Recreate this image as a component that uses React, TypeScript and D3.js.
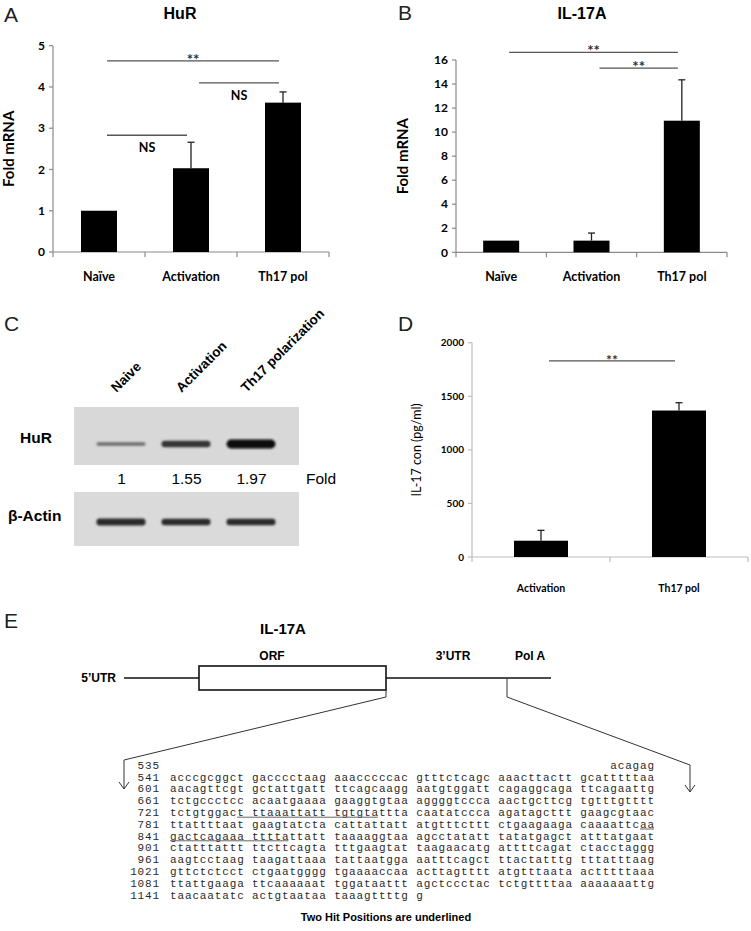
import * as d3 from "d3";
import React from "react";

// ---- data ----
const mrnaCategories = ["Naïve", "Activation", "Th17 pol"];
const hurValues = [1.0, 2.03, 3.62];
const hurErrors = [0, 0.63, 0.26];
const hurTicks = [0, 1, 2, 3, 4, 5];
const hurBrackets = [
  { from: 0, to: 2, at: 4.63, label: "**", above: true },
  { from: 1, to: 2, at: 4.1, label: "NS", above: false },
  { from: 0, to: 1, at: 2.83, label: "NS", above: false },
];

const il17Values = [0.97, 0.97, 10.95];
const il17Errors = [0, 0.63, 3.4];
const il17Ticks = [0, 2, 4, 6, 8, 10, 12, 14, 16];
const il17Brackets = [
  { from: 0, to: 2, at: 16.64, label: "**", above: true },
  { from: 1, to: 2, at: 15.33, label: "**", above: true },
];

const elisaCategories = ["Activation", "Th17 pol"];
const elisaValues = [152, 1367];
const elisaErrors = [97, 73];
const elisaTicks = [0, 500, 1000, 1500, 2000];
const elisaBrackets = [{ from: 0, to: 1, at: 1831, label: "**", above: true }];

const blotLanes = ["Naive", "Activation", "Th17 polarization"];
const hurFold = [1, 1.55, 1.97];
const actinLevel = [1, 0.95, 0.92];

const seqRows = [
  ["541", "acccgcggct gacccctaag aaacccccac gtttctcagc aaacttactt gcatttttaa"],
  ["601", "aacagttcgt gctattgatt ttcagcaagg aatgtggatt cagaggcaga ttcagaattg"],
  ["661", "tctgccctcc acaatgaaaa gaaggtgtaa aggggtccca aactgcttcg tgtttgtttt"],
  ["721", "tctgtggact ttaaattatt tgtgtattta caatatccca agatagcttt gaagcgtaac"],
  ["781", "ttattttaat gaagtatcta cattattatt atgtttcttt ctgaagaaga caaaattcaa"],
  ["841", "gactcagaaa ttttattatt taaaaggtaa agcctatatt tatatgagct atttatgaat"],
  ["901", "ctatttattt ttcttcagta tttgaagtat taagaacatg attttcagat ctacctaggg"],
  ["961", "aagtcctaag taagattaaa tattaatgga aatttcagct ttactatttg tttatttaag"],
  ["1021", "gttctctcct ctgaatgggg tgaaaaccaa acttagtttt atgtttaata actttttaaa"],
  ["1081", "ttattgaaga ttcaaaaaat tggataattt agctccctac tctgttttaa aaaaaaattg"],
  ["1141", "taacaatatc actgtaataa taaagttttg g"],
];
const seqFirst = { start: "535", text: "acagag" };
const hitUnderlines = [
  { row: "721", from: 9, to: 28 },
  { row: "781", from: 63, to: 65 },
  { row: "841", from: 0, to: 16 },
];

const chartFont = "Lato, 'Open Sans', sans-serif";
const arial = "'Liberation Sans', Arial, sans-serif";

type Bracket = { from: number; to: number; at: number; label: string; above: boolean };

function BarPanel(props: {
  categories: string[];
  values: number[];
  errors: number[];
  ticks: number[];
  brackets: Bracket[];
  xRange: [number, number];
  yRange: [number, number];
  barWidth: number;
  axisColor: string;
  tickSize: number;
  xLabelSize: number;
  xLabelOffset: number;
  yLabel: string;
  yLabelX: number;
  yLabelSize: number;
  yLabelWeight: string | number;
  starSize: number;
}) {
  const { categories, values, errors, ticks, brackets, xRange, yRange, barWidth } = props;
  const x = d3.scaleBand().domain(categories).range(xRange).padding(0);
  const y = d3.scaleLinear().domain([ticks[0], ticks[ticks.length - 1]]).range(yRange);
  const cx = (i: number) => (x(categories[i]) as number) + x.bandwidth() / 2;
  const bounds = categories.map((c) => x(c) as number).concat([xRange[1]]);
  const yMid = (yRange[0] + yRange[1]) / 2;

  return (
    <g>
      {/* axes */}
      <line x1={xRange[0]} x2={xRange[0]} y1={yRange[0]} y2={yRange[1]} stroke={props.axisColor} strokeWidth={1.2} />
      <line x1={xRange[0]} x2={xRange[1]} y1={yRange[0]} y2={yRange[0]} stroke={props.axisColor} strokeWidth={1.2} />
      {ticks.map((t) => (
        <g key={t}>
          <line x1={xRange[0] - 4} x2={xRange[0]} y1={y(t)} y2={y(t)} stroke={props.axisColor} strokeWidth={1.2} />
          <text x={xRange[0] - 8} y={y(t)} dy="0.35em" textAnchor="end" fontFamily={chartFont} fontWeight="bold" fontSize={props.tickSize}>
            {t}
          </text>
        </g>
      ))}
      {bounds.map((b, i) => (
        <line key={i} x1={b} x2={b} y1={yRange[0]} y2={yRange[0] + 5} stroke={props.axisColor} strokeWidth={1.2} />
      ))}
      {categories.map((c, i) => (
        <text key={c} x={cx(i)} y={yRange[0] + props.xLabelOffset} textAnchor="middle" fontFamily={chartFont} fontWeight="bold" fontSize={props.xLabelSize}>
          {c}
        </text>
      ))}
      <text
        transform={`translate(${props.yLabelX},${yMid}) rotate(-90)`}
        textAnchor="middle"
        fontFamily={chartFont}
        fontWeight={props.yLabelWeight}
        fontSize={props.yLabelSize}
      >
        {props.yLabel}
      </text>
      {/* bars + error bars */}
      {values.map((v, i) => (
        <g key={i}>
          {errors[i] > 0 && (
            <g stroke="#222" strokeWidth={1.3}>
              <line x1={cx(i)} x2={cx(i)} y1={y(v)} y2={y(v + errors[i])} />
              <line x1={cx(i) - 3.5} x2={cx(i) + 3.5} y1={y(v + errors[i])} y2={y(v + errors[i])} />
            </g>
          )}
          <rect x={cx(i) - barWidth / 2} y={y(v)} width={barWidth} height={yRange[0] - y(v)} fill="#000" />
        </g>
      ))}
      {/* significance */}
      {brackets.map((b, i) => {
        const x1 = cx(b.from) + 8;
        const x2 = cx(b.to) - 4;
        return (
          <g key={i}>
            <line x1={x1} x2={x2} y1={y(b.at)} y2={y(b.at)} stroke="#555" strokeWidth={1.3} />
            <text
              x={(x1 + x2) / 2}
              y={b.above ? y(b.at) + 4 : y(b.at) + 17}
              textAnchor="middle"
              fontFamily={chartFont}
              fontWeight="bold"
              fontSize={b.above ? props.starSize : 12.5}
              fill={b.above ? "#333" : "#000"}
            >
              {b.label}
            </text>
          </g>
        );
      })}
    </g>
  );
}

function Blot() {
  const laneX = d3.scaleBand().domain(blotLanes).range([88, 283]).padding(0);
  const lc = (i: number) => (laneX(blotLanes[i]) as number) + laneX.bandwidth() / 2;
  const bandH = d3.scaleLinear().domain([1, 2]).range([3.5, 9]);
  const bandC = d3.scaleLinear<string>().domain([1, 2]).range(["#6a6a6a", "#0a0a0a"]);
  return (
    <g>
      <defs>
        <filter id="blur" x="-20%" y="-100%" width="140%" height="300%">
          <feGaussianBlur stdDeviation="1.2" />
        </filter>
      </defs>
      {blotLanes.map((l, i) => (
        <text key={l} transform={`translate(${lc(i) - 4},393) rotate(-45)`} fontFamily={arial} fontWeight="bold" fontSize={13.5}>
          {l}
        </text>
      ))}
      <rect x={74} y={407} width={225} height={58} fill="#d8d8d8" />
      <rect x={74} y={492} width={225} height={54} fill="#dadada" />
      {hurFold.map((f, i) => (
        <rect
          key={i}
          x={lc(i) - 24}
          y={444 - bandH(f) / 2}
          width={49}
          height={bandH(f)}
          rx={bandH(f) / 2}
          fill={bandC(f)}
          filter="url(#blur)"
        />
      ))}
      {actinLevel.map((a, i) => (
        <rect key={i} x={lc(i) - 24} y={522 - 3.5 * a} width={49} height={7 * a} rx={3} fill="#2a2a2a" filter="url(#blur)" />
      ))}
      <text x={20} y={443} fontFamily={arial} fontWeight="bold" fontSize={15.5}>HuR</text>
      <text x={8} y={521} fontFamily={arial} fontWeight="bold" fontSize={15.5}>β-Actin</text>
      {hurFold.map((f, i) => (
        <text key={i} x={lc(i) + 1} y={484} textAnchor="middle" fontFamily={arial} fontSize={15.5}>
          {f}
        </text>
      ))}
      <text x={306} y={484} fontFamily={arial} fontSize={15.5}>Fold</text>
    </g>
  );
}

function GeneDiagram() {
  const charW = 7.46;
  const textX = 170;
  const rowY = d3.scaleLinear().domain([0, 11]).range([765, 894.8]);
  const rowIndex = (r: string) => seqRows.findIndex((s) => s[0] === r) + 1;
  const fs = 11;
  const seqStyle = { fontFamily: "'Liberation Mono', 'DejaVu Sans Mono', monospace", fontSize: fs, letterSpacing: charW - 0.6 * fs };
  return (
    <g>
      <text x={283} y={634} textAnchor="middle" fontFamily={arial} fontWeight="bold" fontSize={15}>IL-17A</text>
      <text x={272} y={660} textAnchor="middle" fontFamily={arial} fontWeight="bold" fontSize={12}>ORF</text>
      <text x={453} y={660} textAnchor="middle" fontFamily={arial} fontWeight="bold" fontSize={12}>3’UTR</text>
      <text x={530} y={660} textAnchor="middle" fontFamily={arial} fontWeight="bold" fontSize={12}>Pol A</text>
      <text x={116} y={682} textAnchor="end" fontFamily={arial} fontWeight="bold" fontSize={12}>5’UTR</text>
      <g stroke="#111" strokeWidth={1.6} fill="none">
        <line x1={124} x2={199} y1={678} y2={678} />
        <rect x={199} y={666} width={187} height={24} fill="#fff" />
        <line x1={386} x2={551} y1={678} y2={678} />
      </g>
      <g stroke="#333" strokeWidth={1} fill="none">
        <polyline points="386,690 386,697 124,760 124,789" />
        <polyline points="119,782 124,789 129,782" />
        <polyline points="507,678 507,697 690,765 690,792" />
        <polyline points="685,785 690,792 695,785" />
      </g>
      <g fill="#2a2a2a">
        <text x={160} y={rowY(0)} dy="0.35em" textAnchor="end" style={seqStyle}>{seqFirst.start}</text>
        <text x={655} y={rowY(0)} dy="0.35em" textAnchor="end" style={seqStyle}>{seqFirst.text}</text>
        {seqRows.map((r, i) => (
          <g key={r[0]}>
            <text x={160} y={rowY(i + 1)} dy="0.35em" textAnchor="end" style={seqStyle}>{r[0]}</text>
            <text x={textX} y={rowY(i + 1)} dy="0.35em" style={seqStyle}>{r[1]}</text>
          </g>
        ))}
      </g>
      {hitUnderlines.map((u) => (
        <line
          key={u.row}
          x1={textX + u.from * charW}
          x2={textX + u.to * charW - 1}
          y1={rowY(rowIndex(u.row)) + 5}
          y2={rowY(rowIndex(u.row)) + 5}
          stroke="#666"
          strokeWidth={1}
        />
      ))}
      <text x={386} y={921} textAnchor="middle" fontFamily={arial} fontWeight="bold" fontSize={11}>
        Two Hit Positions are underlined
      </text>
    </g>
  );
}

export default function App() {
  const letter = { fontFamily: arial, fontSize: 21, fontWeight: 300 as const, fill: "#222" };
  return (
    <svg width={751} height={931} style={{ position: "absolute", left: 0, top: 0, background: "#fff" }}>
      <rect width={751} height={931} fill="#fff" />
      <text x={4} y={22} style={letter}>A</text>
      <text x={398} y={20} style={letter}>B</text>
      <text x={4} y={331} style={letter}>C</text>
      <text x={398} y={331} style={letter}>D</text>
      <text x={4} y={628} style={letter}>E</text>
      <text x={180} y={19} textAnchor="middle" fontFamily={arial} fontWeight="bold" fontSize={16}>HuR</text>
      <text x={582} y={19} textAnchor="middle" fontFamily={arial} fontWeight="bold" fontSize={16}>IL-17A</text>

      <BarPanel
        categories={mrnaCategories}
        values={hurValues}
        errors={hurErrors}
        ticks={hurTicks}
        brackets={hurBrackets}
        xRange={[53, 329]}
        yRange={[252, 45.7]}
        barWidth={36}
        axisColor="#8a8a8a"
        tickSize={12}
        xLabelSize={12.5}
        xLabelOffset={29}
        yLabel="Fold mRNA"
        yLabelX={14}
        yLabelSize={15}
        yLabelWeight="bold"
        starSize={15}
      />
      <BarPanel
        categories={mrnaCategories}
        values={il17Values}
        errors={il17Errors}
        ticks={il17Ticks}
        brackets={il17Brackets}
        xRange={[456, 727]}
        yRange={[252.3, 60]}
        barWidth={36}
        axisColor="#8a8a8a"
        tickSize={12}
        xLabelSize={12.5}
        xLabelOffset={29}
        yLabel="Fold mRNA"
        yLabelX={408}
        yLabelSize={15}
        yLabelWeight="bold"
        starSize={15}
      />
      <BarPanel
        categories={elisaCategories}
        values={elisaValues}
        errors={elisaErrors}
        ticks={elisaTicks}
        brackets={elisaBrackets}
        xRange={[472, 748]}
        yRange={[557, 342.7]}
        barWidth={54}
        axisColor="#bdbdbd"
        tickSize={10}
        xLabelSize={10.5}
        xLabelOffset={35}
        yLabel="IL-17 con (pg/ml)"
        yLabelX={421}
        yLabelSize={12.5}
        yLabelWeight="normal"
        starSize={14}
      />
      <Blot />
      <GeneDiagram />
    </svg>
  );
}
